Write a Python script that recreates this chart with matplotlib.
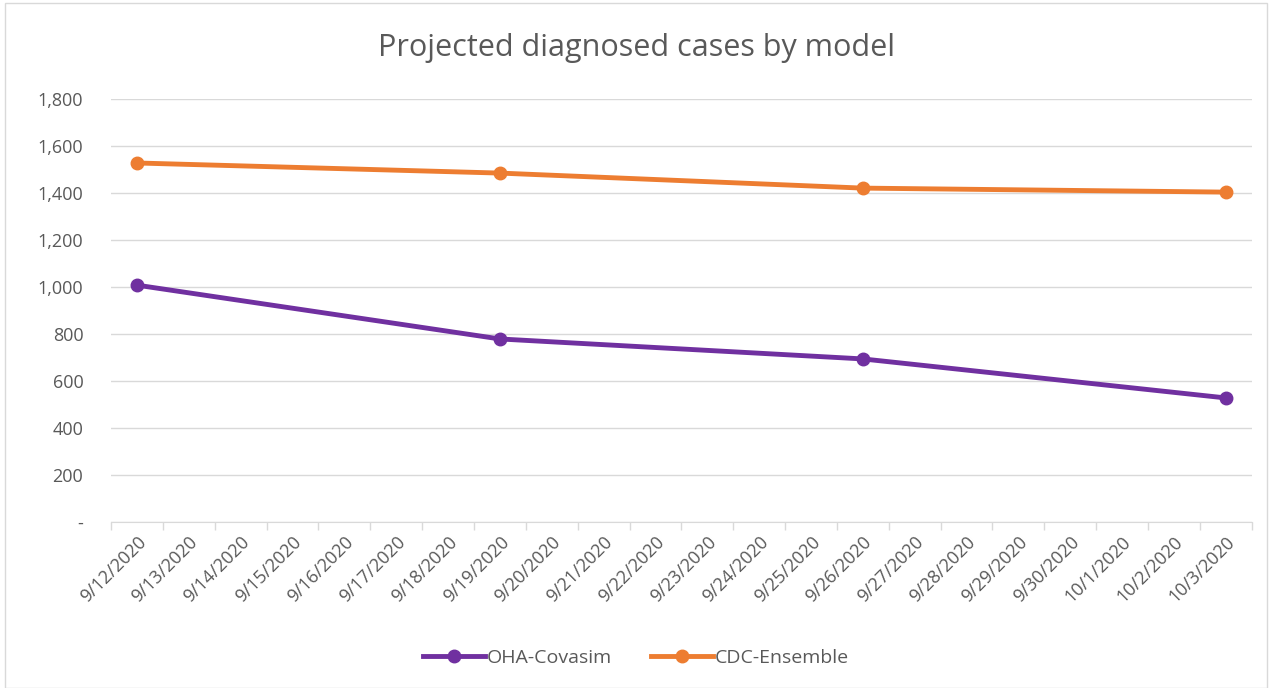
import matplotlib.pyplot as plt
import numpy as np
from matplotlib.ticker import FuncFormatter, MultipleLocator, FixedLocator

plt.rcParams['font.family'] = ['Open Sans', 'DejaVu Sans']

# all days on the category axis
days = ['9/12/2020', '9/13/2020', '9/14/2020', '9/15/2020', '9/16/2020',
        '9/17/2020', '9/18/2020', '9/19/2020', '9/20/2020', '9/21/2020',
        '9/22/2020', '9/23/2020', '9/24/2020', '9/25/2020', '9/26/2020',
        '9/27/2020', '9/28/2020', '9/29/2020', '9/30/2020', '10/1/2020',
        '10/2/2020', '10/3/2020']

point_days = ['9/12/2020', '9/19/2020', '9/26/2020', '10/3/2020']
oha_covasim = [1008, 779, 694, 528]
cdc_ensemble = [1528, 1485, 1421, 1404]

x = [days.index(d) for d in point_days]

fig = plt.figure(figsize=(12.72, 6.88), dpi=100)
ax = fig.add_axes([0.0873, 0.2413, 0.8967, 0.6147])

ax.plot(x, oha_covasim, color='#7030a0', lw=3.5, marker='o', ms=9, label='OHA-Covasim')
ax.plot(x, cdc_ensemble, color='#ed7d31', lw=3.5, marker='o', ms=9, label='CDC-Ensemble')

ax.set_xlim(-0.5, len(days) - 0.5)
ax.set_ylim(0, 1800)
ax.yaxis.set_major_locator(MultipleLocator(200))
ax.yaxis.set_major_formatter(FuncFormatter(lambda v, p: '-' if v == 0 else f'{int(v):,}'))
ax.grid(axis='y', color='#d9d9d9', lw=1)
ax.set_axisbelow(True)

ax.set_xticks(range(len(days)))
ax.set_xticklabels(days, rotation=45, ha='right', rotation_mode='anchor')
ax.xaxis.set_minor_locator(FixedLocator(np.arange(-0.5, len(days), 1)))
ax.tick_params(axis='x', which='major', length=0, pad=8, labelsize=13, labelcolor='#595959')
ax.tick_params(axis='x', which='minor', length=6, color='#d9d9d9', width=1)
ax.tick_params(axis='y', length=0, pad=20, labelsize=13, labelcolor='#595959')

for s in ['top', 'right', 'left']:
    ax.spines[s].set_visible(False)
ax.spines['bottom'].set_color('#d9d9d9')

fig.text(0.5, 0.93, 'Projected diagnosed cases by model', ha='center', va='center',
         fontsize=22, color='#595959')

fig.legend(loc='center', bbox_to_anchor=(0.5, 0.044), ncol=2, frameon=False,
           fontsize=14, labelcolor='#595959', handlelength=3.2, handletextpad=0.1,
           columnspacing=2)

fig.patches.append(plt.Rectangle((0.004, 0.0), 0.992, 0.995, transform=fig.transFigure,
                                 fill=False, edgecolor='#d9d9d9', lw=1))

plt.savefig('out.png')
